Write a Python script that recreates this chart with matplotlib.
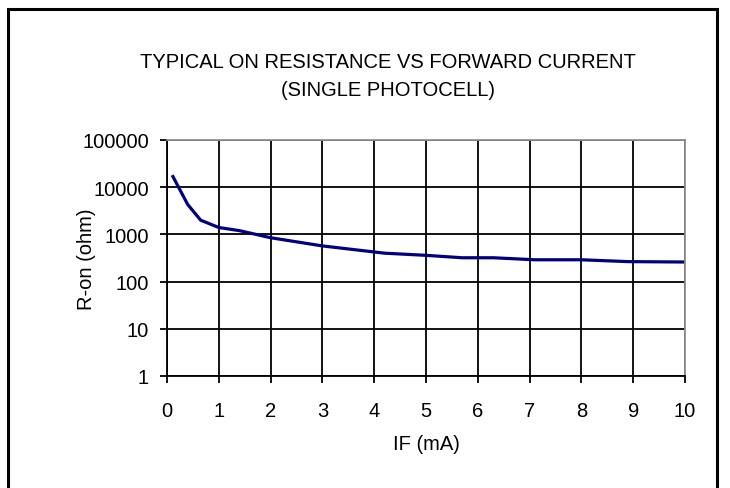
import matplotlib

matplotlib.use("Agg")
import matplotlib.pyplot as plt
from matplotlib.patches import Rectangle

# forward current (mA) and on resistance (ohm)
i_f = [0.1, 0.4, 0.65, 1.0, 1.4, 2.0, 3.0, 4.2, 5.0, 5.7, 6.3, 7.1, 8.0, 8.9, 10.0]
r_on = [18000, 4300, 2000, 1400, 1200, 850, 570, 400, 360, 320, 320, 290, 290, 265, 260]

x_ticks = list(range(0, 11))
y_ticks = [1, 10, 100, 1000, 10000, 100000]
y_tick_labels = ["1", "10", "100", "1000", "10000", "100000"]

plt.rcParams["font.family"] = ["Liberation Sans", "DejaVu Sans"]

fig = plt.figure(figsize=(7.3, 4.89), dpi=100)

# outer chart frame (runs off the bottom of the picture)
fig.patches.append(
    Rectangle((8 / 730, -0.05), 709 / 730, 1 - 10 / 489 + 0.05,
              transform=fig.transFigure, fill=False, edgecolor="black",
              linewidth=2.2)
)

ax = fig.add_axes([167 / 730, 1 - 377 / 489, 518 / 730, 236 / 489])
ax.plot(i_f, r_on, color="#000080", linewidth=2.3, solid_capstyle="butt")

ax.set_yscale("log")
ax.set_xlim(0, 10)
ax.set_ylim(1, 100000)
ax.set_xticks(x_ticks)
ax.set_yticks(y_ticks)
ax.set_yticklabels(y_tick_labels)
ax.minorticks_off()
ax.grid(True, color="black", linewidth=1.3)
ax.set_axisbelow(True)

ax.tick_params(labelsize=14.5, length=5, width=1.3, color="black")
ax.tick_params(axis="y", pad=8)
ax.tick_params(axis="x", pad=13)
for side in ["left", "bottom"]:
    ax.spines[side].set_color("black")
    ax.spines[side].set_linewidth(1.3)
for side in ["top", "right"]:
    ax.spines[side].set_color("#909090")
    ax.spines[side].set_linewidth(1.3)

ax.set_xlabel("IF (mA)", fontsize=14.5)
ax.xaxis.set_label_coords(0.5, -67 / 236, transform=ax.transAxes)
ax.set_ylabel("R-on (ohm)", fontsize=14.5)
ax.yaxis.set_label_coords(-81 / 518, 0.5, transform=ax.transAxes)
ax.yaxis.label.set_va("center")
ax.xaxis.label.set_va("center")

fig.text(0.532, 1 - 62 / 489, "TYPICAL ON RESISTANCE VS FORWARD CURRENT",
         ha="center", va="center", fontsize=14.5)
fig.text(0.532, 1 - 90 / 489, "(SINGLE PHOTOCELL)",
         ha="center", va="center", fontsize=14.5)

fig.savefig("out.png", dpi=100)
